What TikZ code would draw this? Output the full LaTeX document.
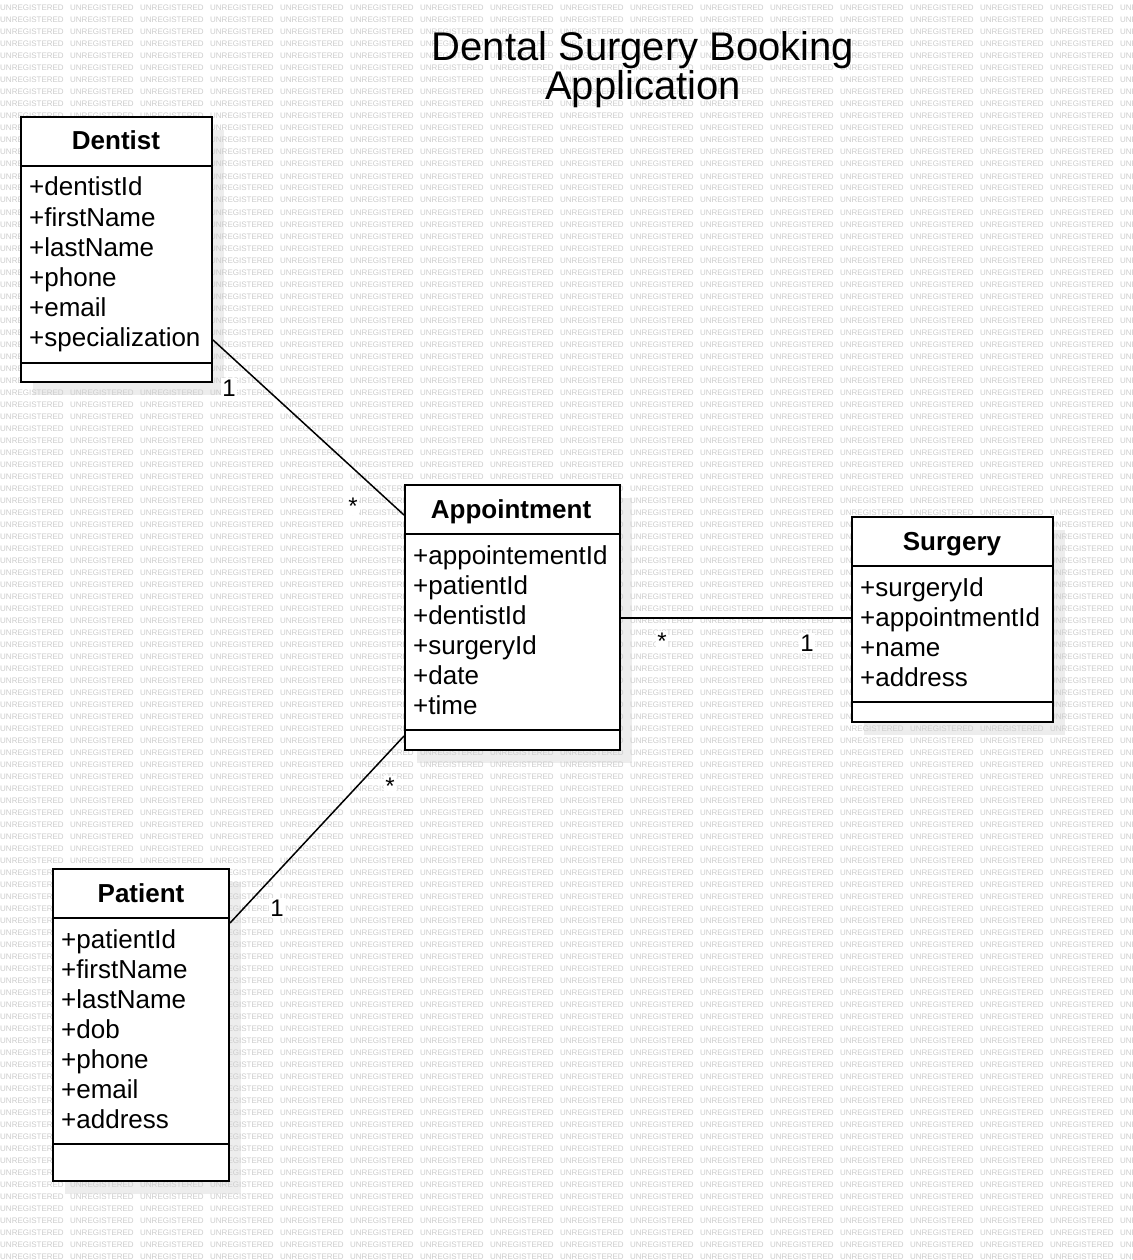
\documentclass[tikz,border=0pt]{standalone}
\usepackage{fontspec}
\setmainfont{Liberation Sans}
\def\wmone{\makebox[70pt][l]{UNREGISTERED}}
\def\wmrow{\wmone\wmone\wmone\wmone\wmone\wmone\wmone\wmone\wmone\wmone\wmone\wmone\wmone\wmone\wmone\wmone\wmone}
\begin{document}
\begin{tikzpicture}[x=1pt,y=-1pt,
  classbox/.style={draw=black, line width=2pt, fill=white, inner sep=0pt, anchor=north west},
  classline/.style={line width=2pt},
  shadowfill/.style={fill=black!7},
  attr/.style={anchor=base west, inner sep=0pt, font=\fontsize{26}{30}\selectfont},
  head/.style={anchor=base, inner sep=0pt, font=\fontsize{26}{30}\selectfont\bfseries},
  mult/.style={anchor=base, inner sep=1pt, fill=white, font=\fontsize{24}{28}\selectfont},
  wm/.style={anchor=base west, inner sep=0pt, text=black!20, font=\fontsize{8}{8}\selectfont},
  assoc/.style={line width=1.5pt},
  titletext/.style={anchor=base, inner sep=0pt, font=\fontsize{40}{40}\selectfont}]
\useasboundingbox (0,0) rectangle (1132,1260);
\fill[white] (0,0) rectangle (1132,1260);
% shadows
\fill[shadowfill] (33,130) rectangle (224,395);
\fill[shadowfill] (417,498) rectangle (632,763);
\fill[shadowfill] (864,530) rectangle (1065,735);
\fill[shadowfill] (65,882) rectangle (241,1194);
% watermark
\foreach \r in {0,...,104}
  \node[wm] (wm\r) at (0,11+12*\r) {\wmrow};
% title
\node[titletext] (title1) at (643,61) {Dental Surgery Booking};
\node[titletext] (title2) at (643,100) {Application};
% boxes
\node[classbox, minimum width=191pt, minimum height=265pt] (dentist) at (20,116) {};
\node[classbox, minimum width=215pt, minimum height=265pt] (appt) at (404,484) {};
\node[classbox, minimum width=201pt, minimum height=205pt] (surgery) at (851,516) {};
\node[classbox, minimum width=176pt, minimum height=312pt] (patient) at (52,868) {};
% dividers
\draw[classline] (dentist.west |- 0,166) -- (dentist.east |- 0,166);
\draw[classline] (dentist.west |- 0,363) -- (dentist.east |- 0,363);
\draw[classline] (appt.west |- 0,534) -- (appt.east |- 0,534);
\draw[classline] (appt.west |- 0,730) -- (appt.east |- 0,730);
\draw[classline] (surgery.west |- 0,566) -- (surgery.east |- 0,566);
\draw[classline] (surgery.west |- 0,702) -- (surgery.east |- 0,702);
\draw[classline] (patient.west |- 0,918) -- (patient.east |- 0,918);
\draw[classline] (patient.west |- 0,1144) -- (patient.east |- 0,1144);
% headers
\node[head] (dentist-h) at (116,150) {Dentist};
\node[head] (appt-h) at (511,518) {Appointment};
\node[head] (surgery-h) at (952,550) {Surgery};
\node[head] (patient-h) at (141,902) {Patient};
% attributes
\foreach \t [count=\i] in {+dentistId,+firstName,+lastName,+phone,+email,+specialization}
  \node[attr] (dentist-a\i) at (29,166+30*\i) {\t};
\foreach \t [count=\i] in {+appointementId,+patientId,+dentistId,+surgeryId,+date,+time}
  \node[attr] (appt-a\i) at (413,534+30*\i) {\t};
\foreach \t [count=\i] in {+surgeryId,+appointmentId,+name,+address}
  \node[attr] (surgery-a\i) at (860,566+30*\i) {\t};
\foreach \t [count=\i] in {+patientId,+firstName,+lastName,+dob,+phone,+email,+address}
  \node[attr] (patient-a\i) at (61,918+30*\i) {\t};
% associations
\draw[assoc] (dentist.east |- 0,340) -- (appt.west |- 0,515);
\draw[assoc] (appt.east |- 0,618) -- (surgery.west |- 0,618);
\draw[assoc] (appt.west |- 0,736) -- (patient.east |- 0,923);
% multiplicities
\node[mult] (m1) at (229,396) {1};
\node[mult] (m2) at (353,514) {*};
\node[mult] (m3) at (662,649) {*};
\node[mult] (m4) at (807,651) {1};
\node[mult] (m5) at (390,794) {*};
\node[mult] (m6) at (277,916) {1};
\end{tikzpicture}
\end{document}
